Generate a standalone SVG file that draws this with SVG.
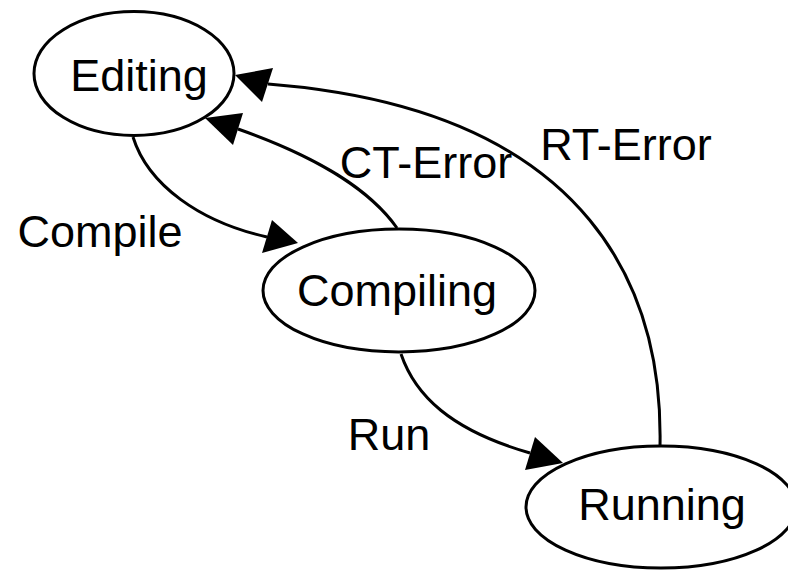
<svg xmlns="http://www.w3.org/2000/svg" width="788" height="573" viewBox="0 0 788 573">
<style>
.node ellipse{fill:#fff;stroke:#000;stroke-width:3}
text{font-family:"Liberation Sans",Arial,sans-serif;font-size:45px;fill:#000;text-anchor:middle}
.edge{fill:none;stroke:#000;stroke-width:3}
.arrow{fill:#000;stroke:none}
</style>
<rect width="788" height="573" fill="#fff"/>
<g id="connectors">
<g id="e-compile"><path class="edge" d="M133,137 C148,185 200,222 267,237"/><polygon class="arrow" points="298,243 272,220 262,253"/><text x="100" y="247">Compile</text></g>
<g id="e-cterror"><path class="edge" d="M397,228 C370,190 320,158 238,129"/><polygon class="arrow" points="205,118 243,113 233,145"/><text x="426" y="178">CT-Error</text></g>
<g id="e-run"><path class="edge" d="M401,354 C415,395 450,430 530,453"/><polygon class="arrow" points="563,463 535,437 525,470"/><text x="389" y="450">Run</text></g>
<g id="e-rterror"><path class="edge" d="M660,446 C663,300 600,110 268,84"/><polygon class="arrow" points="235,75 273,68 262,102"/><text x="626" y="160">RT-Error</text></g>
</g>
<g id="editing" class="node"><ellipse cx="134" cy="73.5" rx="100" ry="62"/><text x="139" y="91">Editing</text></g>
<g id="compiling" class="node"><ellipse cx="399" cy="290.5" rx="136" ry="61.5"/><text x="397" y="306">Compiling</text></g>
<g id="running" class="node"><ellipse cx="661" cy="507" rx="135" ry="61"/><text x="662" y="520">Running</text></g>
</svg>
